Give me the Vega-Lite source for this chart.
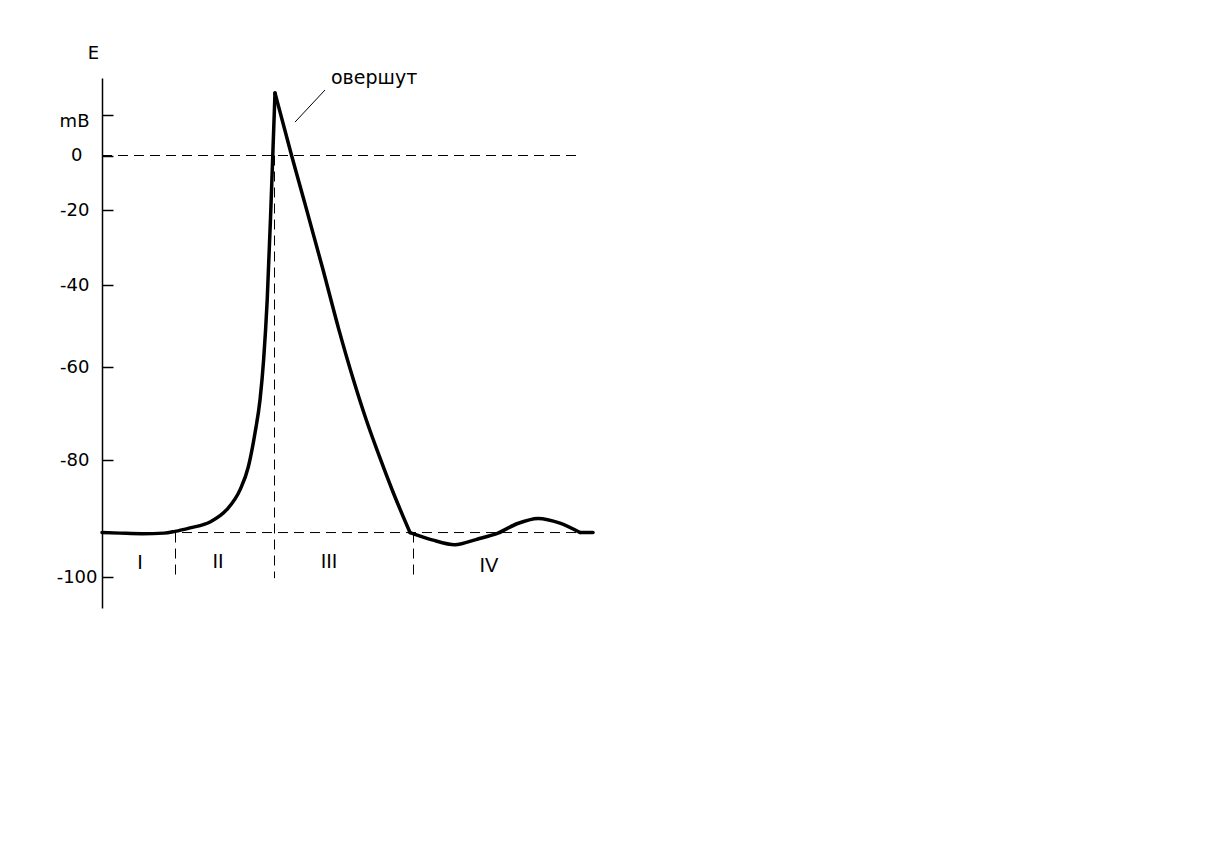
{
  "$schema": "https://vega.github.io/schema/vega-lite/v6.json",
  "width": 500,
  "height": 530,
  "autosize": {"type": "none"},
  "padding": {"left": 102, "top": 78, "right": 612, "bottom": 254},
  "background": "white",
  "config": {"view": {"stroke": null}},
  "datasets": {
    "curve": [
      {"seg": "rise", "t": 0.00, "v": -92.4},
      {"seg": "rise", "t": 0.18, "v": -92.5},
      {"seg": "rise", "t": 0.40, "v": -92.6},
      {"seg": "rise", "t": 0.62, "v": -92.5},
      {"seg": "rise", "t": 0.73, "v": -92.2},
      {"seg": "rise", "t": 0.88, "v": -91.6},
      {"seg": "rise", "t": 1.08, "v": -90.6},
      {"seg": "rise", "t": 1.247, "v": -88.5},
      {"seg": "rise", "t": 1.38, "v": -85.1},
      {"seg": "rise", "t": 1.463, "v": -81.2},
      {"seg": "rise", "t": 1.53, "v": -74.2},
      {"seg": "rise", "t": 1.58, "v": -67.1},
      {"seg": "rise", "t": 1.616, "v": -58.3},
      {"seg": "rise", "t": 1.652, "v": -43.7},
      {"seg": "rise", "t": 1.687, "v": -20.8},
      {"seg": "rise", "t": 1.707, "v": -0.7},
      {"seg": "rise", "t": 1.73, "v": 31.0},
      {"seg": "fall", "t": 1.73, "v": 31.0},
      {"seg": "fall", "t": 1.896, "v": 0.0},
      {"seg": "fall", "t": 2.02, "v": -16.4},
      {"seg": "fall", "t": 2.211, "v": -36.0},
      {"seg": "fall", "t": 2.37, "v": -51.0},
      {"seg": "fall", "t": 2.515, "v": -62.8},
      {"seg": "fall", "t": 2.643, "v": -71.4},
      {"seg": "fall", "t": 2.777, "v": -79.4},
      {"seg": "fall", "t": 2.913, "v": -85.6},
      {"seg": "fall", "t": 3.08, "v": -92.4},
      {"seg": "tail", "t": 4.78, "v": -92.4},
      {"seg": "tail", "t": 4.91, "v": -92.4}
    ],
    "after": [
      {"t": 3.08, "v": -92.4},
      {"t": 3.31, "v": -93.7},
      {"t": 3.53, "v": -94.5},
      {"t": 3.76, "v": -93.5},
      {"t": 3.96, "v": -92.5},
      {"t": 4.15, "v": -90.9},
      {"t": 4.36, "v": -90.0},
      {"t": 4.58, "v": -90.8},
      {"t": 4.78, "v": -92.4}
    ],
    "refs": [
      {"t1": 0.0, "v1": 0, "t2": 4.78, "v2": 0},
      {"t1": 0.0, "v1": -92.4, "t2": 4.91, "v2": -92.4},
      {"t1": 0.735, "v1": -92.4, "t2": 0.735, "v2": -100.2},
      {"t1": 1.725, "v1": 0, "t2": 1.725, "v2": -100.2},
      {"t1": 3.115, "v1": -92.4, "t2": 3.115, "v2": -100.2}
    ],
    "pointer": [
      {"t1": 2.23, "v1": 32.5, "t2": 1.93, "v2": 16.5}
    ],
    "phases": [
      {"t": 0.38, "v": -97.6, "label": "I"},
      {"t": 1.16, "v": -97.4, "label": "II"},
      {"t": 2.27, "v": -97.4, "label": "III"},
      {"t": 3.87, "v": -98.1, "label": "IV"}
    ],
    "notes": [
      {"t": 2.29, "v": 38.5, "label": "овершут"}
    ]
  },
  "encoding": {
    "x": {
      "field": "t", "type": "quantitative",
      "scale": {"domain": [0, 5], "nice": false, "zero": false},
      "axis": null
    },
    "y": {
      "field": "v", "type": "quantitative",
      "scale": {
        "domain": [-105.3, -100, -80, -60, -40, -20, 0, 20, 38.5],
        "range": [530, 499, 382, 289, 207, 132, 77.5, 37, 0],
        "nice": false, "zero": false
      },
      "axis": {
        "values": [-100, -80, -60, -40, -20, 0, 20],
        "labelExpr": "datum.value == 20 ? 'mB' : '' + datum.value",
        "grid": false,
        "tickSize": -11,
        "tickColor": "black",
        "tickWidth": 1.5,
        "domainColor": "black",
        "domainWidth": 1.5,
        "labelColor": "black",
        "labelFont": "DejaVu Sans",
        "labelFontSize": 18,
        "labelAlign": "right",
        "labelPadding": {"condition": [{"test": "datum.value == 0", "value": 31}, {"test": "datum.value == -100", "value": 16}], "value": 24},
        "labelOffset": {"condition": {"test": "datum.value == 20", "value": 6}, "value": 0},
        "title": "E",
        "titleAngle": 0,
        "titleX": -9,
        "titleY": -25,
        "titleAlign": "center",
        "titleBaseline": "middle",
        "titleFont": "DejaVu Sans",
        "titleFontSize": 18,
        "titleFontWeight": "normal",
        "titleColor": "black"
      }
    }
  },
  "layer": [
    {
      "data": {"name": "refs"},
      "mark": {"type": "rule", "color": "black", "strokeWidth": 1, "strokeDash": [10, 6]},
      "encoding": {
        "x": {"field": "t1", "type": "quantitative"},
        "y": {"field": "v1", "type": "quantitative"},
        "x2": {"field": "t2"},
        "y2": {"field": "v2"}
      }
    },
    {
      "data": {"name": "curve"},
      "mark": {"type": "line", "color": "black", "strokeWidth": 3.5, "interpolate": "monotone", "strokeJoin": "round", "strokeCap": "round"},
      "encoding": {"detail": {"field": "seg"}}
    },
    {
      "data": {"name": "after"},
      "mark": {"type": "line", "color": "black", "strokeWidth": 3.5, "interpolate": "cardinal", "tension": 0.2, "strokeJoin": "round", "strokeCap": "round"},
      "encoding": {}
    },
    {
      "data": {"name": "pointer"},
      "mark": {"type": "rule", "color": "black", "strokeWidth": 1},
      "encoding": {
        "x": {"field": "t1", "type": "quantitative"},
        "y": {"field": "v1", "type": "quantitative"},
        "x2": {"field": "t2"},
        "y2": {"field": "v2"}
      }
    },
    {
      "data": {"name": "phases"},
      "mark": {"type": "text", "font": "Liberation Sans", "fontSize": 20, "color": "black", "align": "center", "baseline": "middle"},
      "encoding": {"text": {"field": "label"}}
    },
    {
      "data": {"name": "notes"},
      "mark": {"type": "text", "font": "DejaVu Sans", "fontSize": 19, "color": "black", "align": "left", "baseline": "middle"},
      "encoding": {"text": {"field": "label"}}
    }
  ]
}
